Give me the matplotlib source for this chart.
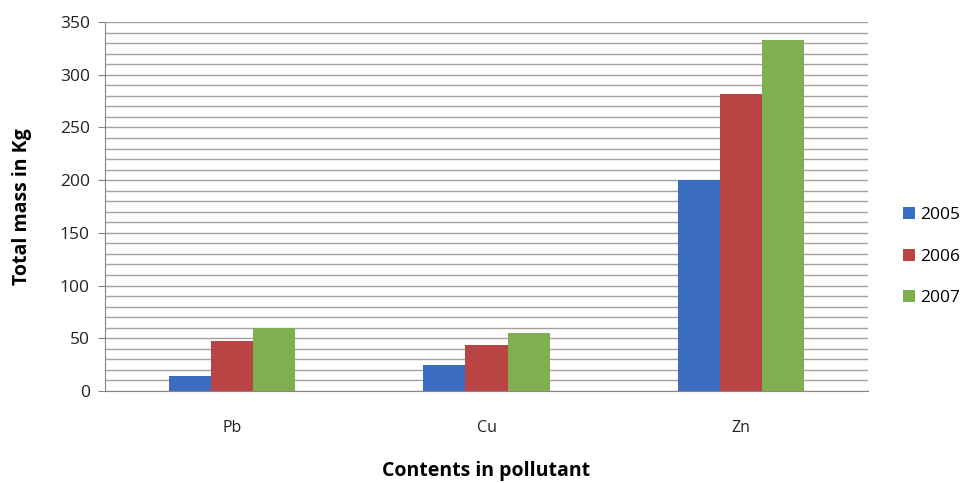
import matplotlib
matplotlib.use("Agg")
import matplotlib.pyplot as plt
import numpy as np
from matplotlib.ticker import MultipleLocator

categories = ["Pb", "Cu", "Zn"]
years = ["2005", "2006", "2007"]
v2005 = [14, 25, 200]
v2006 = [47, 44, 282]
v2007 = [60, 55, 333]
series = [v2005, v2006, v2007]
colors = ["#3a6dbf", "#b94443", "#7eb04f"]
yticks = [0, 50, 100, 150, 200, 250, 300, 350]

plt.rcParams['font.family'] = ['Open Sans', 'DejaVu Sans']

fig = plt.figure(figsize=(9.69, 4.83), dpi=100)
ax = fig.add_axes([105/969, 1 - 391/483, (868-105)/969, (391-22)/483])

x = np.arange(len(categories))
w = 0.166
for i, (vals, c, yr) in enumerate(zip(series, colors, years)):
    ax.bar(x + (i - 1) * w, vals, width=w, color=c, label=yr, zorder=3)

ax.set_xlim(-0.5, 2.5)
ax.set_ylim(0, 350)
ax.set_yticks(yticks)
ax.yaxis.set_minor_locator(MultipleLocator(10))
ax.grid(axis='y', which='both', color='#aaa09a', linewidth=1.0, zorder=0)
ax.set_axisbelow(True)
ax.set_xticks(x)
ax.set_xticklabels(categories, fontsize=11.5, color='#222222')
ax.tick_params(axis='x', length=0, pad=21)
ax.tick_params(axis='y', which='major', length=5, color='#8c8480', labelsize=12.5,
               labelcolor='#222222', pad=6)
ax.tick_params(axis='y', which='minor', length=0)
for s in ['top', 'right']:
    ax.spines[s].set_visible(False)
ax.spines['left'].set_color('#8c8480')
ax.spines['bottom'].set_color('#8c8480')

ax.set_ylabel("Total mass in Kg", fontsize=14, fontweight='bold', labelpad=20)
ax.set_xlabel("Contents in pollutant", fontsize=14, fontweight='bold', labelpad=18)

leg = ax.legend(loc='center left', bbox_to_anchor=(1.046, 0.364), frameon=False,
                fontsize=12.5, handlelength=0.7, handleheight=0.7, handletextpad=0.3,
                labelspacing=1.45, borderaxespad=0, borderpad=0)

fig.savefig("out.png", dpi=100, facecolor='white')
